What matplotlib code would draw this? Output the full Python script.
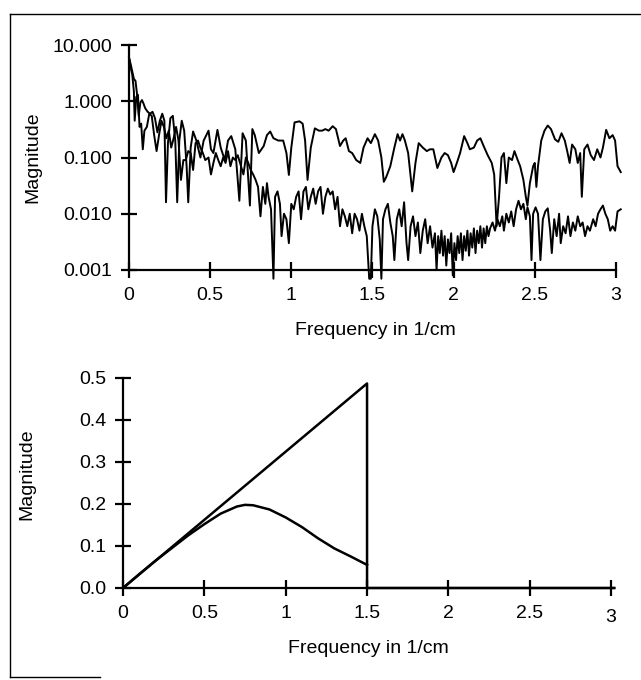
import matplotlib
matplotlib.use('Agg')
import matplotlib.pyplot as plt
from matplotlib.lines import Line2D
from matplotlib.ticker import FuncFormatter

plt.rcParams['font.family'] = ['Liberation Sans', 'DejaVu Sans']

# upper spectrum (stays around 0.1 - 0.4)
freq_a = [0.00, 0.01, 0.02, 0.03, 0.04, 0.05, 0.06, 0.07, 0.08, 0.09, 0.10, 0.115, 0.13, 0.145,
          0.16, 0.175, 0.19, 0.205, 0.218, 0.228, 0.24, 0.255, 0.27, 0.285, 0.297, 0.31, 0.325,
          0.34, 0.355, 0.365, 0.38, 0.395, 0.415, 0.44, 0.46, 0.49, 0.505, 0.52, 0.545, 0.565,
          0.59, 0.61, 0.63, 0.655, 0.68, 0.70, 0.72, 0.745, 0.76, 0.775, 0.80, 0.83, 0.85, 0.87,
          0.89, 0.92, 0.95, 0.97, 0.985, 1.00, 1.02, 1.05, 1.07, 1.085, 1.10, 1.12, 1.145, 1.17,
          1.19, 1.21, 1.23, 1.255, 1.275, 1.30, 1.32, 1.335, 1.355, 1.375, 1.40, 1.425, 1.445,
          1.47, 1.49, 1.515, 1.535, 1.555, 1.57, 1.585, 1.61, 1.635, 1.655, 1.67, 1.685, 1.70,
          1.72, 1.745, 1.765, 1.785, 1.81, 1.835, 1.855, 1.875, 1.90, 1.925, 1.945, 1.965, 1.985,
          2.00, 2.02, 2.04, 2.065, 2.085, 2.10, 2.125, 2.145, 2.165, 2.185, 2.21, 2.235, 2.25,
          2.265, 2.28, 2.295, 2.31, 2.325, 2.34, 2.36, 2.375, 2.395, 2.41, 2.43, 2.445, 2.455,
          2.47, 2.49, 2.50, 2.51, 2.52, 2.54, 2.56, 2.58, 2.60, 2.625, 2.645, 2.665, 2.685, 2.70,
          2.715, 2.73, 2.75, 2.765, 2.78, 2.79, 2.805, 2.825, 2.845, 2.865, 2.885, 2.905, 2.92,
          2.94, 2.96, 2.98, 2.995, 3.01, 3.03]
mag_a = [6.0, 4.6, 3.4, 2.5, 2.3, 1.3, 0.55, 0.95, 1.05, 0.9, 0.75, 0.65, 0.6, 0.65,
         0.5, 0.28, 0.45, 0.6, 0.45, 0.016, 0.18, 0.5, 0.55, 0.2, 0.016, 0.2, 0.45,
         0.3, 0.07, 0.016, 0.15, 0.29, 0.2, 0.1, 0.2, 0.3, 0.14, 0.12, 0.31, 0.15,
         0.09, 0.2, 0.24, 0.14, 0.017, 0.27, 0.2, 0.014, 0.32, 0.25, 0.12, 0.16, 0.25, 0.29,
         0.22, 0.2, 0.2, 0.12, 0.049, 0.15, 0.42, 0.44, 0.40, 0.2, 0.04, 0.15, 0.33, 0.3,
         0.3, 0.32, 0.3, 0.36, 0.32, 0.16, 0.2, 0.22, 0.13, 0.12, 0.09, 0.08, 0.15,
         0.22, 0.18, 0.26, 0.2, 0.1, 0.037, 0.045, 0.07, 0.15, 0.26, 0.2, 0.26, 0.2,
         0.12, 0.025, 0.08, 0.18, 0.15, 0.13, 0.14, 0.14, 0.065, 0.1, 0.12, 0.11, 0.08,
         0.055, 0.08, 0.12, 0.24, 0.18, 0.14, 0.15, 0.2, 0.22, 0.16, 0.11, 0.08, 0.05,
         0.006, 0.02, 0.1, 0.12, 0.035, 0.1, 0.09, 0.13, 0.09, 0.07, 0.04, 0.02, 0.014,
         0.035, 0.07, 0.08, 0.03, 0.07, 0.2, 0.3, 0.37, 0.32, 0.21, 0.19, 0.27, 0.2, 0.13,
         0.08, 0.17, 0.14, 0.08, 0.12, 0.02, 0.14, 0.17, 0.11, 0.09, 0.14, 0.1, 0.15,
         0.31, 0.22, 0.25, 0.2, 0.07, 0.055]

# lower spectrum (drops to 0.001 - 0.01)
freq_b = [0.00, 0.01, 0.02, 0.03, 0.035, 0.045, 0.055, 0.065, 0.075, 0.085, 0.095, 0.11, 0.125,
          0.14, 0.155, 0.17, 0.185, 0.20, 0.215, 0.23, 0.245, 0.26, 0.275, 0.29, 0.305, 0.32,
          0.335, 0.35, 0.365, 0.38, 0.395, 0.41, 0.425, 0.44, 0.455, 0.47, 0.49, 0.505, 0.52,
          0.535, 0.55, 0.565, 0.58, 0.595, 0.61, 0.625, 0.64, 0.655, 0.67, 0.69, 0.705, 0.72,
          0.735, 0.75, 0.765, 0.78, 0.795, 0.81, 0.825, 0.84, 0.85, 0.86, 0.875, 0.89, 0.90,
          0.915, 0.93, 0.94, 0.955, 0.97, 0.985, 1.00, 1.015, 1.03, 1.045, 1.06, 1.075, 1.09,
          1.105, 1.12, 1.135, 1.15, 1.165, 1.18, 1.195, 1.21, 1.225, 1.24, 1.255, 1.27, 1.285,
          1.30, 1.315, 1.33, 1.345, 1.36, 1.375, 1.39, 1.405, 1.42, 1.435, 1.45, 1.465, 1.48,
          1.49, 1.50, 1.515, 1.53, 1.545, 1.555, 1.565, 1.58, 1.595, 1.61, 1.625, 1.635, 1.65,
          1.665, 1.68, 1.695, 1.71, 1.72, 1.735, 1.75, 1.765, 1.78, 1.795, 1.81, 1.825, 1.84,
          1.855, 1.87, 1.885, 1.895, 1.905, 1.915, 1.925, 1.935, 1.945, 1.955, 1.965, 1.975,
          1.985, 1.995, 2.005, 2.015, 2.025, 2.035, 2.045, 2.055, 2.065, 2.075, 2.085, 2.095,
          2.105, 2.115, 2.125, 2.135, 2.145, 2.155, 2.165, 2.175, 2.185, 2.195, 2.205, 2.215,
          2.225, 2.24, 2.255, 2.27, 2.285, 2.30, 2.31, 2.325, 2.34, 2.355, 2.37, 2.385, 2.40,
          2.415, 2.43, 2.445, 2.455, 2.47, 2.48, 2.49, 2.505, 2.52, 2.535, 2.55, 2.565, 2.58,
          2.595, 2.605, 2.62, 2.635, 2.65, 2.66, 2.675, 2.69, 2.705, 2.72, 2.735, 2.75, 2.765,
          2.78, 2.795, 2.81, 2.825, 2.84, 2.86, 2.875, 2.89, 2.905, 2.92, 2.935, 2.95, 2.965,
          2.98, 2.995, 3.01, 3.03]
mag_b = [6.0, 4.0, 3.0, 1.5, 0.45, 1.2, 1.3, 0.35, 0.4, 0.14, 0.3, 0.35, 0.6,
         0.55, 0.25, 0.13, 0.25, 0.45, 0.35, 0.22, 0.3, 0.15, 0.22, 0.35, 0.2, 0.04,
         0.09, 0.09, 0.13, 0.12, 0.06, 0.18, 0.2, 0.15, 0.12, 0.09, 0.1, 0.05, 0.08,
         0.12, 0.09, 0.07, 0.1, 0.08, 0.13, 0.07, 0.1, 0.09, 0.11, 0.07, 0.05, 0.1,
         0.08, 0.06, 0.05, 0.04, 0.03, 0.009, 0.03, 0.015, 0.035, 0.02, 0.012, 0.0007, 0.02,
         0.025, 0.015, 0.004, 0.01, 0.008, 0.003, 0.015, 0.012, 0.02, 0.025, 0.008, 0.025, 0.03,
         0.012, 0.02, 0.028, 0.015, 0.025, 0.03, 0.01, 0.02, 0.028, 0.022, 0.025, 0.012, 0.02,
         0.006, 0.012, 0.009, 0.006, 0.01, 0.0045, 0.01, 0.008, 0.005, 0.01, 0.006, 0.004, 0.0007,
         0.0007, 0.006, 0.012, 0.009, 0.0035, 0.0007, 0.008, 0.012, 0.015, 0.007, 0.004, 0.0015, 0.008,
         0.012, 0.006, 0.016, 0.003, 0.0015, 0.006, 0.009, 0.004, 0.007, 0.002, 0.005, 0.008, 0.003,
         0.006, 0.0025, 0.0045, 0.001, 0.004, 0.002, 0.005, 0.0018, 0.004, 0.0012, 0.0035, 0.002,
         0.0045, 0.0008, 0.003, 0.0015, 0.004, 0.002, 0.0045, 0.0015, 0.004, 0.0022, 0.005, 0.0018,
         0.0045, 0.0025, 0.0055, 0.002, 0.005, 0.003, 0.006, 0.0025, 0.0055, 0.003, 0.006, 0.004,
         0.0055, 0.007, 0.005, 0.008, 0.006, 0.009, 0.005, 0.01, 0.007, 0.011, 0.006, 0.012, 0.017,
         0.012, 0.015, 0.008, 0.013, 0.009, 0.0015, 0.01, 0.013, 0.01, 0.0015, 0.008, 0.011, 0.0125,
         0.005, 0.002, 0.008, 0.004, 0.01, 0.003, 0.006, 0.0045, 0.009, 0.004, 0.007, 0.005, 0.009,
         0.006, 0.007, 0.004, 0.006, 0.005, 0.008, 0.006, 0.01, 0.012, 0.014, 0.01, 0.008, 0.005,
         0.006, 0.005, 0.011, 0.012]

# lower panel: ramp filter and windowed filter
ramp_freq = [0.0, 1.5, 1.5, 3.02]
ramp_mag = [0.0, 0.487, 0.0, 0.0]
win_freq = [0.0, 0.1, 0.2, 0.3, 0.4, 0.5, 0.6, 0.7, 0.75, 0.8, 0.9, 1.0, 1.1, 1.2, 1.3, 1.4, 1.5]
win_mag = [0.0, 0.033, 0.065, 0.095, 0.125, 0.152, 0.177, 0.194, 0.198, 0.197, 0.187, 0.168,
           0.145, 0.118, 0.094, 0.075, 0.055]

W, H = 641, 680
fig = plt.figure(figsize=(W / 100, H / 100), dpi=100)

def style(ax):
    for s in ['top', 'right']:
        ax.spines[s].set_visible(False)
    for s in ['left', 'bottom']:
        ax.spines[s].set_linewidth(1.6)
    ax.tick_params(direction='inout', length=12, width=1.6, labelsize=14, pad=6)

# top panel
ax1 = fig.add_axes([129 / W, 1 - 270 / H, 3.03 * 162.3 / W, 225 / H])
ax1.plot(freq_a, mag_a, color='black', lw=1.4, clip_on=False)
ax1.plot(freq_b, mag_b, color='black', lw=1.4, clip_on=False)
ax1.set_yscale('log')
ax1.set_ylim(0.001, 10)
ax1.set_xlim(0, 3.03)
ax1.spines['bottom'].set_bounds(0, 3)
ax1.set_yticks([0.001, 0.01, 0.1, 1, 10])
ax1.yaxis.set_major_formatter(FuncFormatter(lambda v, p: '%.3f' % v))
ax1.yaxis.set_minor_locator(plt.NullLocator())
ax1.set_xticks([0, 0.5, 1, 1.5, 2, 2.5, 3])
ax1.set_xticklabels(['0', '0.5', '1', '1.5', '2', '2.5', '3'])
style(ax1)
ax1.set_xlabel('Frequency in 1/cm', fontsize=14, labelpad=13)
ax1.set_ylabel('Magnitude', fontsize=14)
ax1.yaxis.set_label_coords(-0.179, 0.50)

# bottom panel
ax2 = fig.add_axes([123 / W, 1 - 588 / H, 3.02 * 162.7 / W, 210 / H])
ax2.plot(ramp_freq, ramp_mag, color='black', lw=1.8, clip_on=False)
ax2.plot(win_freq, win_mag, color='black', lw=1.8, clip_on=False)
ax2.set_xlim(0, 3.02)
ax2.set_ylim(0, 0.5)
ax2.set_yticks([0, 0.1, 0.2, 0.3, 0.4, 0.5])
ax2.yaxis.set_major_formatter(FuncFormatter(lambda v, p: '%.1f' % v))
ax2.set_xticks([0, 0.5, 1, 1.5, 2, 2.5, 3])
ax2.set_xticklabels(['0', '0.5', '1', '1.5', '2', '2.5', '3'])
style(ax2)
ax2.get_xticklabels()[-1].set_y(-0.02)
ax2.set_xlabel('Frequency in 1/cm', fontsize=14, labelpad=10)
ax2.set_ylabel('Magnitude', fontsize=14)
ax2.yaxis.set_label_coords(-0.179, 0.54)

# page frame of the scanned figure
fig.add_artist(Line2D([10 / W, 10 / W], [1 - 14 / H, 1 - 677 / H], color='black', lw=1.0))
fig.add_artist(Line2D([10 / W, 1.0], [1 - 14 / H, 1 - 14 / H], color='black', lw=1.0))
fig.add_artist(Line2D([10 / W, 100 / W], [1 - 677 / H, 1 - 677 / H], color='black', lw=1.0))

fig.savefig('out.png', dpi=100)
